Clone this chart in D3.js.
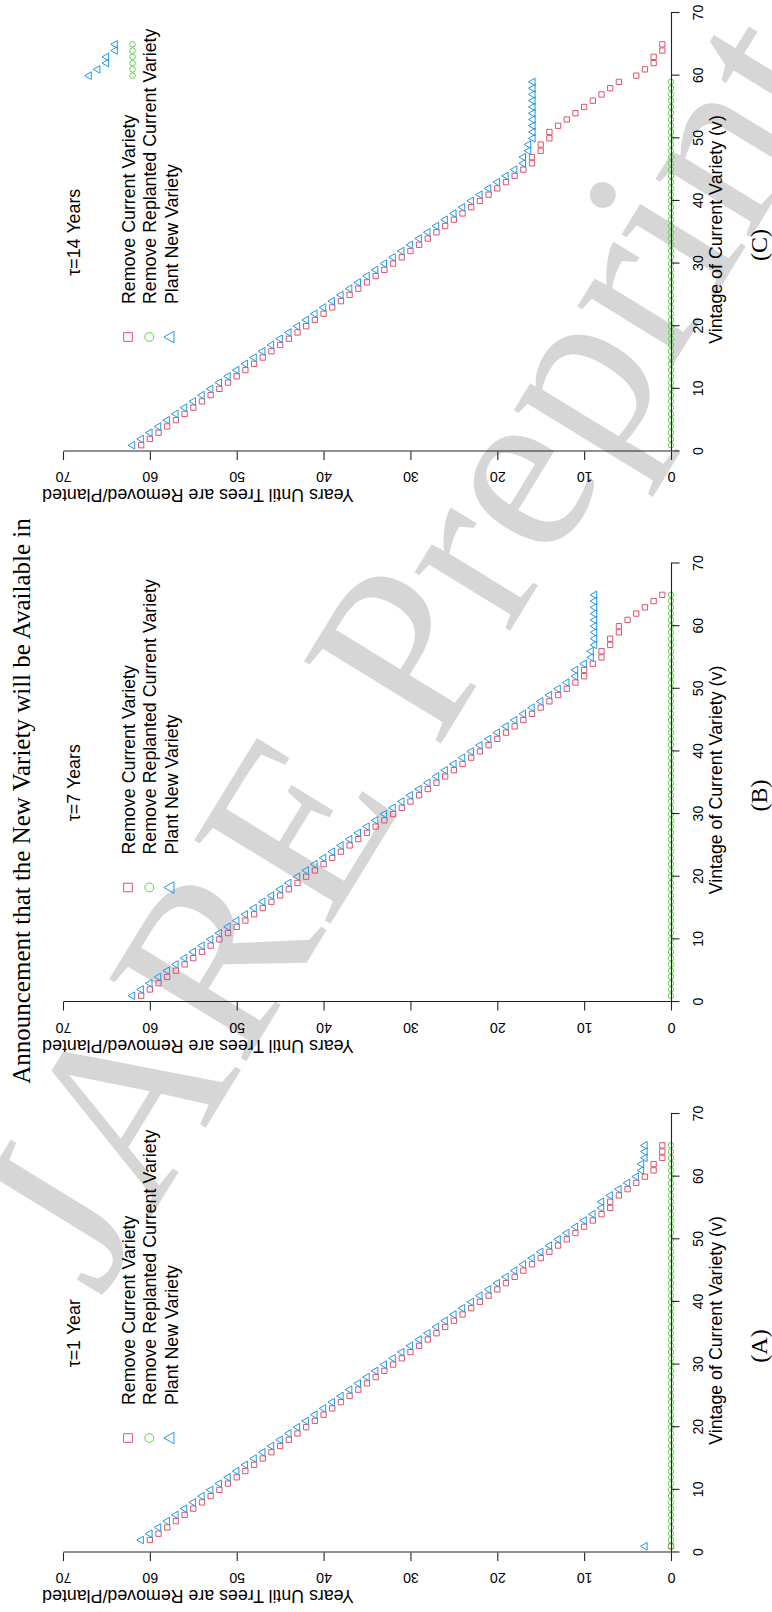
<!DOCTYPE html>
<html>
<head>
<meta charset="utf-8">
<script src="https://cdn.jsdelivr.net/npm/d3@7"></script>
<style>
  body { margin: 0; background: #fff; }
  svg { display: block; }
  text { font-family: "Liberation Sans", Arial, sans-serif; fill: #000; }
  .serif { font-family: "Liberation Serif", "Times New Roman", serif; }
  .tick text { font-size: 14.2px; }
  .domain, .tick line { stroke: #222; stroke-width: 1.1; }
</style>
</head>
<body>
<svg id="chart" width="772" height="1612"></svg>
<script>
(function() {

// ---- data ----
const vintage = [1,2,3,4,5,6,7,8,9,10,11,12,13,14,15,16,17,18,19,20,21,22,23,24,25,
  26,27,28,29,30,31,32,33,34,35,36,37,38,39,40,41,42,43,44,45,46,47,48,49,50,
  51,52,53,54,55,56,57,58,59,60,61,62,63,64,65];
const vintageTicks = [0,10,20,30,40,50,60,70];
const yearTicks = [0,10,20,30,40,50,60,70];
const seriesNames = ["Remove Current Variety", "Remove Replanted Current Variety", "Plant New Variety"];
const tauLabels = ["\u03c4=1 Year", "\u03c4=7 Years", "\u03c4=14 Years"];
const panelLabels = ["(A)", "(B)", "(C)"];

// (A) tau = 1
const removeA = [0,60,59,58,57,56,55,54,53,52,51,50,49,48,47,46,45,44,43,42,41,40,39,38,37,
  36,35,34,33,32,31,30,29,28,27,26,25,24,23,22,21,20,19,18,17,16,15,14,13,12,
  11,10,9,8,7,7,6,5,4,3,2,2,1,1,1];
const replantA = [0,0,0,0,0,0,0,0,0,0,0,0,0,0,0,0,0,0,0,0,0,0,0,0,0,
  0,0,0,0,0,0,0,0,0,0,0,0,0,0,0,0,0,0,0,0,0,0,0,0,0,
  0,0,0,0,0,0,0,0,0,0,0,0,0,0,0];
const plantA = [3,61,60,59,58,57,56,55,54,53,52,51,50,49,48,47,46,45,44,43,42,41,40,39,38,
  37,36,35,34,33,32,31,30,29,28,27,26,25,24,23,22,21,20,19,18,17,16,15,14,13,
  12,11,10,9,8,8,7,6,5,4,3.4,3.4,3,3,3];

// (B) tau = 7
const removeB = [61,60,59,58,57,56,55,54,53,52,51,50,49,48,47,46,45,44,43,42,41,40,39,38,37,
  36,35,34,33,32,31,30,29,28,27,26,25,24,23,22,21,20,19,18,17,16,15,14,13,12,
  11,10,10,9,8,8,7,7,6,6,5,4,3,2,1];
const replantB = [0,0,0,0,0,0,0,0,0,0,0,0,0,0,0,0,0,0,0,0,0,0,0,0,0,
  0,0,0,0,0,0,0,0,0,0,0,0,0,0,0,0,0,0,0,0,0,0,0,0,0,
  0,0,0,0,0,0,0,0,0,0,0,0,0,0,0];
const plantB = [62,61,60,59,58,57,56,55,54,53,52,51,50,49,48,47,46,45,44,43,42,41,40,39,38,
  37,36,35,34,33,32,31,30,29,28,27,26,25,24,23,22,21,20,19,18,17,16,15,14,13,
  12,11,11,10,9.2,9.2,8.8,8.8,8.8,8.8,8.8,8.8,8.8,8.8,8.8];

// (C) tau = 14
const removeC = [61,60,59,58,57,56,55,54,53,52,51,50,49,48,47,46,45,44,43,42,41,40,39,38,37,
  36,35,34,33,32,31,30,29,28,27,26,25,24,23,22,21,20,19,18,17,16,16,15,15,14,
  14,13,12,11,10,9,8,7,6,4,3,2,2,1,1];
const replantC = [0,0,0,0,0,0,0,0,0,0,0,0,0,0,0,0,0,0,0,0,0,0,0,0,0,
  0,0,0,0,0,0,0,0,0,0,0,0,0,0,0,0,0,0,0,0,0,0,0,0,0,
  0,0,0,0,0,0,0,0,0,62,62,62,62,62,62];
const plantC = [62,61,60,59,58,57,56,55,54,53,52,51,50,49,48,47,46,45,44,43,42,41,40,39,38,
  37,36,35,34,33,32,31,30,29,28,27,26,25,24,23,22,21,20,19,18,17,17,16.4,16.4,15.9,
  15.9,15.9,15.9,15.9,15.9,15.9,15.9,15.9,15.9,67,66,65,65,64,64];

const colors = ["#DF536B", "#61D04F", "#2297E6"];
const shapes = [d3.symbolSquare, d3.symbolCircle, d3.symbolTriangle];
const pointSizes = [28, 24, 25];
const legendSizes = [75, 62, 58];

const panels = [
  {x0: 59.5,   series: [removeA, replantA, plantA]},
  {x0: 610,    series: [removeB, replantB, plantB]},
  {x0: 1160.5, series: [removeC, replantC, plantC]}
];

const svg = d3.select("#chart");

// watermark, drawn first so the chart sits on top
svg.append("text")
    .attr("class", "serif")
    .attr("transform", "translate(405,648) rotate(-58.5)")
    .attr("text-anchor", "middle")
    .attr("dy", "0.33em")
    .style("font-size", "244px")
    .style("fill", "#d6d6d6")
    .text("JARE Preprint");

// the page is landscape, turned a quarter turn on the sheet
const page = svg.append("g")
    .attr("transform", "translate(0,1612) rotate(-90)");

page.append("text")
    .attr("class", "serif")
    .attr("x", 811)
    .attr("y", 30)
    .attr("text-anchor", "middle")
    .style("font-size", "25px")
    .text("Announcement that the New Variety will be Available in");

panels.forEach(function(p, k) {

    var x = d3.scaleLinear().domain([0, 70]).range([p.x0, p.x0 + 438.5]);
    var y = d3.scaleLinear().domain([0, 70]).range([671, 63]);
    var g = page.append("g");

    // points
    p.series.forEach(function(vals, s) {
        g.append("g").selectAll("path")
            .data(vintage)
          .enter().append("path")
            .attr("transform", function(v, i) {
                return "translate(" + x(v) + "," + y(vals[i]) + ")";
            })
            .attr("d", d3.symbol(shapes[s], pointSizes[s]))
            .attr("fill", "none")
            .attr("stroke", colors[s])
            .attr("stroke-width", 1);
    });

    // x axis
    var xa = g.append("g")
        .attr("transform", "translate(0," + y(0) + ")")
        .call(d3.axisBottom(x).tickValues(vintageTicks)
              .tickSize(8.5).tickSizeOuter(0).tickPadding(13.4));
    xa.attr("font-family", null).attr("font-size", null);

    // y axis, labels parallel to the axis
    var ya = g.append("g")
        .attr("transform", "translate(" + x(0) + ",0)")
        .call(d3.axisLeft(y).tickValues(yearTicks)
              .tickSize(8.5).tickSizeOuter(0));
    ya.attr("font-family", null).attr("font-size", null);
    ya.selectAll(".tick text")
        .attr("x", null)
        .attr("dy", null)
        .attr("text-anchor", "middle")
        .attr("transform", "translate(-20.5,0) rotate(-90)");

    // axis titles
    g.append("text")
        .attr("x", p.x0 + 222)
        .attr("y", 722)
        .attr("text-anchor", "middle")
        .style("font-size", "17.8px")
        .text("Vintage of Current Variety (v)");

    g.append("text")
        .attr("transform", "translate(" + (p.x0 - 37.5) + ",198) rotate(-90)")
        .attr("text-anchor", "middle")
        .style("font-size", "17.8px")
        .text("Years Until Trees are Removed/Planted");

    // tau note
    g.append("text")
        .attr("x", x(35))
        .attr("y", 80)
        .attr("text-anchor", "middle")
        .style("font-size", "17.8px")
        .text(tauLabels[k]);

    // legend
    var leg = g.append("g");
    seriesNames.forEach(function(name, s) {
        var ry = 128 + s * 21.3;
        leg.append("path")
            .attr("transform", "translate(" + (p.x0 + 114.5) + "," + ry + ")")
            .attr("d", d3.symbol(shapes[s], legendSizes[s]))
            .attr("fill", "none")
            .attr("stroke", colors[s])
            .attr("stroke-width", 1);
        leg.append("text")
            .attr("x", p.x0 + 147.5)
            .attr("y", ry + 7)
            .style("font-size", "17.8px")
            .text(name);
    });

    // panel label
    g.append("text")
        .attr("class", "serif")
        .attr("x", p.x0 + 206.5)
        .attr("y", 767)
        .attr("text-anchor", "middle")
        .style("font-size", "24px")
        .text(panelLabels[k]);
});

})();
</script>
</body>
</html>
